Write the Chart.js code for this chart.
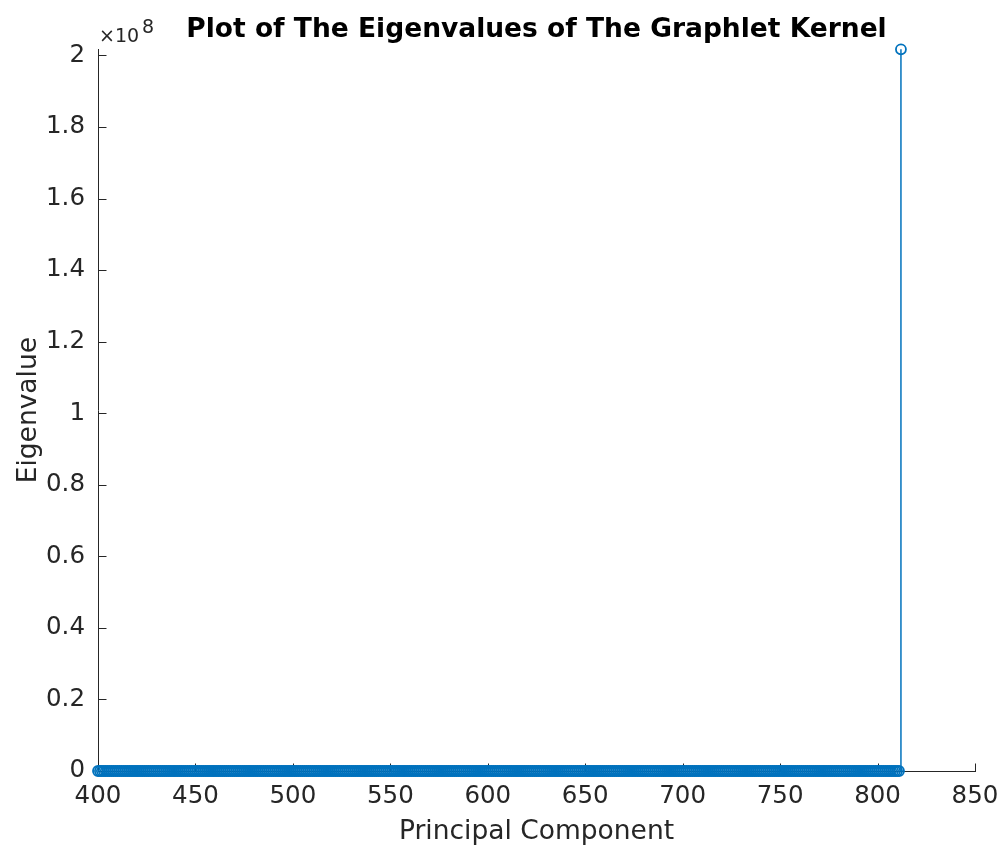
<!DOCTYPE html>
<html>
<head>
<meta charset="utf-8">
<title>Eigenvalues of the Graphlet Kernel</title>
<script src="https://cdn.jsdelivr.net/npm/chart.js@4.4.1/dist/chart.umd.min.js"></script>
<style>
  html, body { margin: 0; padding: 0; background: #ffffff; }
  #wrap { width: 1006px; height: 848px; }
  canvas { display: block; }
</style>
</head>
<body>
<div id="wrap"><canvas id="chart" width="1006" height="848"></canvas></div>
<script>
// ---- data -------------------------------------------------------------
const titleText = 'Plot of The Eigenvalues of The Graphlet Kernel';
const xLabel = 'Principal Component';
const yLabel = 'Eigenvalue';

// first principal component shown on the x axis; one eigenvalue per component
const firstComponent = 400;
const eigenvalues = [
  0,0,0,0,0,0,0,0,0,0,0,0,0,0,0,0,0,0,0,0,
  0,0,0,0,0,0,0,0,0,0,0,0,0,0,0,0,0,0,0,0,
  0,0,0,0,0,0,0,0,0,0,0,0,0,0,0,0,0,0,0,0,
  0,0,0,0,0,0,0,0,0,0,0,0,0,0,0,0,0,0,0,0,
  0,0,0,0,0,0,0,0,0,0,0,0,0,0,0,0,0,0,0,0,
  0,0,0,0,0,0,0,0,0,0,0,0,0,0,0,0,0,0,0,0,
  0,0,0,0,0,0,0,0,0,0,0,0,0,0,0,0,0,0,0,0,
  0,0,0,0,0,0,0,0,0,0,0,0,0,0,0,0,0,0,0,0,
  0,0,0,0,0,0,0,0,0,0,0,0,0,0,0,0,0,0,0,0,
  0,0,0,0,0,0,0,0,0,0,0,0,0,0,0,0,0,0,0,0,
  0,0,0,0,0,0,0,0,0,0,0,0,0,0,0,0,0,0,0,0,
  0,0,0,0,0,0,0,0,0,0,0,0,0,0,0,0,0,0,0,0,
  0,0,0,0,0,0,0,0,0,0,0,0,0,0,0,0,0,0,0,0,
  0,0,0,0,0,0,0,0,0,0,0,0,0,0,0,0,0,0,0,0,
  0,0,0,0,0,0,0,0,0,0,0,0,0,0,0,0,0,0,0,0,
  0,0,0,0,0,0,0,0,0,0,0,0,0,0,0,0,0,0,0,0,
  0,0,0,0,0,0,0,0,0,0,0,0,0,0,0,0,0,0,0,0,
  0,0,0,0,0,0,0,0,0,0,0,0,0,0,0,0,0,0,0,0,
  0,0,0,0,0,0,0,0,0,0,0,0,0,0,0,0,0,0,0,0,
  0,0,0,0,0,0,0,0,0,0,0,0,0,0,0,0,0,0,0,0,
  0,0,0,0,0,0,0,0,0,0,0,0,
  2.017e8
];

const xTicks = [400, 450, 500, 550, 600, 650, 700, 750, 800, 850];
const yTicks = [0, 0.2e8, 0.4e8, 0.6e8, 0.8e8, 1e8, 1.2e8, 1.4e8, 1.6e8, 1.8e8, 2e8];
const yExponent = 8;

// ---- styling ----------------------------------------------------------
const FONT = 'DejaVu Sans';
const axisColor = '#262626';
const stemColor = '#0072BD';
const tickLen = 8;

Chart.defaults.font.family = FONT;
Chart.defaults.color = axisColor;

const points = eigenvalues.map((v, i) => ({ x: firstComponent + i, y: v }));

// stems, inward tick marks and the axis exponent
const stemPlot = {
  id: 'stemPlot',
  beforeDatasetsDraw(chart) {
    const { ctx, chartArea, scales: { x, y } } = chart;
    ctx.save();
    ctx.strokeStyle = axisColor;
    ctx.lineWidth = 1;
    ctx.beginPath();
    const bottom = Math.round(chartArea.bottom) + 0.5;
    const left = Math.round(chartArea.left) + 0.5;
    x.ticks.forEach(t => {
      const px = Math.round(x.getPixelForValue(t.value)) + 0.5;
      ctx.moveTo(px, bottom);
      ctx.lineTo(px, bottom - tickLen);
    });
    y.ticks.forEach(t => {
      const py = Math.round(y.getPixelForValue(t.value)) + 0.5;
      ctx.moveTo(left, py);
      ctx.lineTo(left + tickLen, py);
    });
    ctx.stroke();

    const meta = chart.getDatasetMeta(0);
    const y0 = y.getPixelForValue(0);
    ctx.strokeStyle = stemColor;
    ctx.lineWidth = 1.5;
    ctx.beginPath();
    meta.data.forEach(pt => {
      if (Math.abs(pt.y - y0) > 0.5) {
        ctx.moveTo(pt.x, y0);
        ctx.lineTo(pt.x, pt.y);
      }
    });
    ctx.stroke();
    ctx.restore();
  },
  afterDraw(chart) {
    const { ctx, chartArea } = chart;
    ctx.save();
    ctx.fillStyle = axisColor;
    ctx.textBaseline = 'alphabetic';
    ctx.textAlign = 'left';
    ctx.font = '19px "' + FONT + '"';
    const base = '\u00d710';
    const x0 = chartArea.left + 1;
    const yb = chartArea.top - 7;
    ctx.fillText(base, x0, yb);
    const w = ctx.measureText(base).width;
    ctx.fillText(String(yExponent), x0 + w + 3, yb - 9);
    ctx.restore();
  }
};

new Chart(document.getElementById('chart'), {
  type: 'scatter',
  data: {
    datasets: [{
      label: yLabel,
      data: points,
      showLine: false,
      pointStyle: 'circle',
      pointRadius: 5,
      pointBorderWidth: 1.8,
      pointBorderColor: stemColor,
      pointBackgroundColor: 'rgba(0,0,0,0)',
      clip: false
    }]
  },
  options: {
    responsive: false,
    devicePixelRatio: 1,
    animation: false,
    events: [],
    layout: { padding: { left: 0, right: 31, top: 0, bottom: 0 } },
    plugins: {
      legend: { display: false },
      tooltip: { enabled: false },
      title: {
        display: true,
        fullSize: false,
        text: titleText,
        color: '#000000',
        font: { family: FONT, size: 26.5, weight: 'bold' },
        padding: { top: 14, bottom: 3.5 }
      }
    },
    scales: {
      x: {
        type: 'linear',
        min: xTicks[0],
        max: xTicks[xTicks.length - 1],
        afterBuildTicks: s => { s.ticks = xTicks.map(v => ({ value: v })); },
        afterFit: s => { s.height = 77; s.paddingLeft = 0; s.paddingRight = 0; },
        grid: { display: false, drawTicks: false },
        border: { display: true, color: axisColor, width: 1 },
        ticks: { color: axisColor, font: { size: 24.5 }, padding: 11, maxRotation: 0, autoSkip: false },
        title: { display: true, text: xLabel, color: axisColor, font: { size: 26.5 }, padding: { top: 0, bottom: 0 } }
      },
      y: {
        type: 'linear',
        min: 0,
        max: Math.max(...eigenvalues),
        afterBuildTicks: s => { s.ticks = yTicks.map(v => ({ value: v })); },
        afterFit: s => { s.width = 98; },
        grid: { display: false, drawTicks: false },
        border: { display: true, color: axisColor, width: 1 },
        ticks: {
          color: axisColor,
          font: { size: 24.5 },
          padding: 13,
          autoSkip: false,
          callback: v => String(+(v / Math.pow(10, yExponent)).toFixed(1))
        },
        title: { display: true, text: yLabel, color: axisColor, font: { size: 26.5 }, padding: { top: 13, bottom: 0 } }
      }
    }
  },
  plugins: [stemPlot]
});
</script>
</body>
</html>
